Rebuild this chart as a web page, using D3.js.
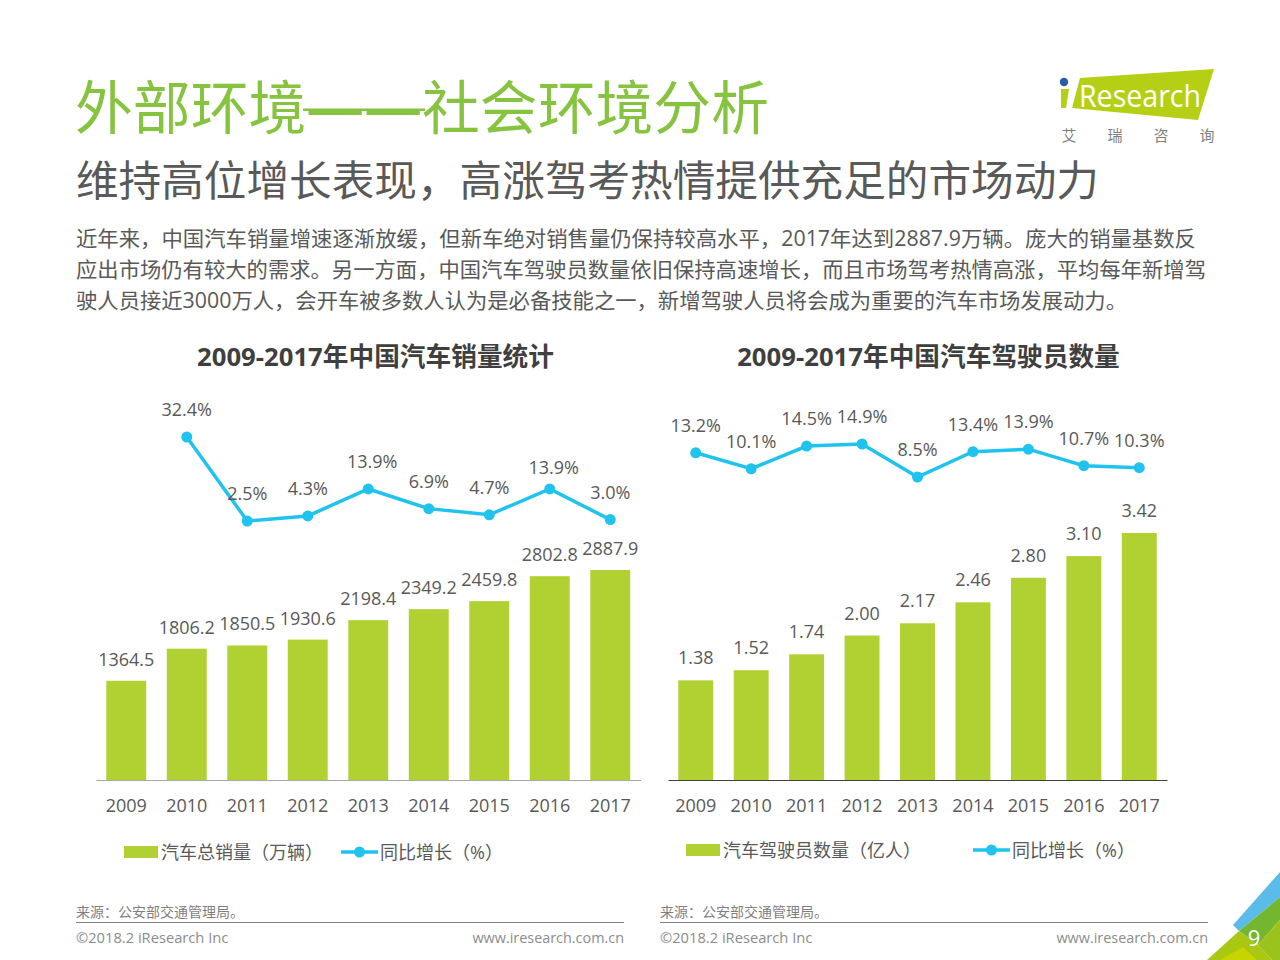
<!DOCTYPE html>
<html>
<head>
<meta charset="utf-8">
<script src="https://cdn.jsdelivr.net/npm/d3@7"></script>
<style>
body { margin: 0; background: #fff; }
svg { display: block; }
text { font-family: "Open Sans", "Noto Sans CJK SC", sans-serif; }
</style>
</head>
<body>
<svg id="chart" width="1280" height="960"></svg>
<script>
// chart data
var years = ["2009","2010","2011","2012","2013","2014","2015","2016","2017"];
var salesValues = [1364.5,1806.2,1850.5,1930.6,2198.4,2349.2,2459.8,2802.8,2887.9];
var salesGrowth = [32.4,2.5,4.3,13.9,6.9,4.7,13.9,3.0];
var driverValues = [1.38,1.52,1.74,2.00,2.17,2.46,2.80,3.10,3.42];
var driverGrowth = [13.2,10.1,14.5,14.9,8.5,13.4,13.9,10.7,10.3];

var paragraph = [
  "近年来，中国汽车销量增速逐渐放缓，但新车绝对销售量仍保持较高水平，2017年达到2887.9万辆。庞大的销量基数反",
  "应出市场仍有较大的需求。另一方面，中国汽车驾驶员数量依旧保持高速增长，而且市场驾考热情高涨，平均每年新增驾",
  "驶人员接近3000万人，会开车被多数人认为是必备技能之一，新增驾驶人员将会成为重要的汽车市场发展动力。"
];

var green = "#b1d132", blue = "#1fc3ee", textGrey = "#595959";
var svg = d3.select("#chart");

function addText(x, y, str, size, fill, anchor, weight, fitWidth) {
    var t = svg.append("text")
    .attr("x", x).attr("y", y)
    .attr("font-size", size)
    .attr("fill", fill)
    .attr("text-anchor", anchor || "start")
    .attr("font-weight", weight || 400)
    .text(str);
    if (fitWidth) t.attr("textLength", fitWidth).attr("lengthAdjust", "spacingAndGlyphs");
    return t;
}

// headers
addText(75, 129, "外部环境——社会环境分析", 57.6, "#86c440", "start", 400, 694);
// close the gap between the two dashes
svg.append("rect").attr("x", 303).attr("y", 108.5).attr("width", 122).attr("height", 2.5).attr("fill", "#86c440");
addText(76, 196, "维持高位增长表现，高涨驾考热情提供充足的市场动力", 42.6, "#595959", "start", 400, 1023);
paragraph.forEach(function(line, i) {
    addText(76, 246 + i * 31, line, 21, textGrey, "start", 400, [1120, 1130, 1051][i]);
});

// one bar + line panel
function drawPanel(opts) {
    var x = d3.scaleBand().domain(opts.categories).range(opts.xRange).paddingInner(opts.padding).paddingOuter(opts.padding / 2);
    var y = d3.scaleLinear().domain([0, d3.max(opts.values)]).range([780, opts.barTop]);
    var yLine = d3.scaleLinear().domain(opts.lineDomain).range(opts.lineRange);

    addText(opts.titleX, 366, opts.title, 25.7, "#3f3f3f", "middle", 700);

    var g = svg.append("g");
    g.selectAll("rect").data(opts.values).enter().append("rect")
    .attr("x", function(d, i) { return x(opts.categories[i]); })
    .attr("y", function(d) { return y(d); })
    .attr("width", x.bandwidth())
    .attr("height", function(d) { return y(0) - y(d); })
    .attr("fill", green);

    g.selectAll("text").data(opts.values).enter().append("text")
    .attr("x", function(d, i) { return x(opts.categories[i]) + x.bandwidth() / 2; })
    .attr("y", function(d) { return y(d) - opts.barLabelGap; })
    .attr("text-anchor", "middle")
    .attr("font-size", 18)
    .attr("fill", textGrey)
    .text(function(d) { return opts.format(d); });

    var axis = svg.append("g")
    .attr("transform", "translate(0,780)")
    .call(d3.axisBottom(x).tickSize(0).tickPadding(19));
    axis.select(".domain").attr("stroke", opts.axisColor).attr("stroke-width", 1.2);
    axis.selectAll("text").attr("font-size", 18).attr("fill", textGrey)
    .style("font-family", '"Open Sans", sans-serif');

    // line only covers the years that have a growth value
    var lineCats = opts.categories.slice(opts.categories.length - opts.growth.length);
    var cx = function(i) { return x(lineCats[i]) + x.bandwidth() / 2; };
    var line = d3.line().x(function(d, i) { return cx(i); }).y(function(d) { return yLine(d); });
    svg.append("path").datum(opts.growth)
    .attr("d", line).attr("fill", "none").attr("stroke", blue).attr("stroke-width", 3.5);

    var pts = svg.append("g");
    pts.selectAll("circle").data(opts.growth).enter().append("circle")
    .attr("cx", function(d, i) { return cx(i); })
    .attr("cy", function(d) { return yLine(d); })
    .attr("r", 5.5).attr("fill", blue);
    pts.selectAll("text").data(opts.growth).enter().append("text")
    .attr("x", function(d, i) { return cx(i) + opts.labelDx(i); })
    .attr("y", function(d, i) { return yLine(d) - opts.labelGap(i); })
    .attr("text-anchor", "middle")
    .attr("font-size", 18)
    .attr("fill", textGrey)
    .text(function(d) { return d.toFixed(1) + "%"; });

    // legend
    var lg = opts.legend;
    svg.append("rect").attr("x", lg.barX).attr("y", lg.y - 6).attr("width", 34).attr("height", 12).attr("fill", green);
    addText(lg.barX + 37, lg.y + 7, lg.barLabel, 18, textGrey);
    svg.append("line").attr("x1", lg.lineX).attr("x2", lg.lineX + 37).attr("y1", lg.y).attr("y2", lg.y).attr("stroke", blue).attr("stroke-width", 3.5);
    svg.append("circle").attr("cx", lg.lineX + 18.5).attr("cy", lg.y).attr("r", 5.5).attr("fill", blue);
    addText(lg.lineX + 39, lg.y + 7, "同比增长（%）", 18, textGrey);
}

drawPanel({
    title: "2009-2017年中国汽车销量统计", titleX: 375.5,
    categories: years, values: salesValues, growth: salesGrowth,
    xRange: [96, 640.5], padding: 0.34, barTop: 570, barLabelGap: 15,
    lineDomain: [2.5, 32.4], lineRange: [521, 437],
    format: function(d) { return d.toFixed(1); },
    // 2013 and 2016 labels sit a bit right of their points, 2016 also lower
    labelDx: function(i) { return (i === 3 || i === 6) ? 4 : 0; },
    labelGap: function(i) { return i === 6 ? 15 : 21; },
    axisColor: "#a6a6a6",
    legend: { barX: 124, lineX: 341, y: 852, barLabel: "汽车总销量（万辆）" }
});

drawPanel({
    title: "2009-2017年中国汽车驾驶员数量", titleX: 928.5,
    categories: years, values: driverValues, growth: driverGrowth,
    xRange: [668, 1167], padding: 0.37, barTop: 533, barLabelGap: 16,
    lineDomain: [8.5, 14.9], lineRange: [477, 444],
    format: function(d) { return d.toFixed(2); },
    labelDx: function() { return 0; },
    labelGap: function() { return 21; },
    axisColor: "#404040",
    legend: { barX: 686, lineX: 973, y: 850, barLabel: "汽车驾驶员数量（亿人）" }
});

// footers
[[76, 624], [660, 1208]].forEach(function(f) {
    addText(f[0], 917, "来源：公安部交通管理局。", 14, "#7f7f7f");
    svg.append("line").attr("x1", f[0]).attr("x2", f[1]).attr("y1", 922.5).attr("y2", 922.5).attr("stroke", "#808080").attr("stroke-width", 1);
    addText(f[0], 943, "©2018.2 iResearch Inc", 14.7, "#8c8c8c");
    addText(f[1], 943, "www.iresearch.com.cn", 14.4, "#8c8c8c", "end");
});

// logo
svg.append("polygon").attr("points", "1080,78 1214,69 1198,120 1072,108").attr("fill", "#b5cf14");
svg.append("polygon").attr("points", "1061,89 1069,89 1066,108 1061,108").attr("fill", "#b5cf14");
svg.append("circle").attr("cx", 1064).attr("cy", 82).attr("r", 4.2).attr("fill", "#2a5caa");
addText(1079, 107, "Research", 31, "#fff", "start", 400, 122);
["艾","瑞","咨","询"].forEach(function(c, i) {
    addText(1069 + i * 46, 141, c, 15, "#7f7f7f", "middle");
});

// corner decoration
svg.append("polygon").attr("points", "1233,925 1280,872 1280,897 1239,931").attr("fill", "#5bbcea");
svg.append("polygon").attr("points", "1239,931 1280,897 1280,920 1258,945").attr("fill", "#74b72e");
svg.append("polygon").attr("points", "1258,945 1280,920 1280,960 1272,960").attr("fill", "#9cc31c");
svg.append("polygon").attr("points", "1207,960 1239,931 1258,945 1272,960").attr("fill", "#a9c811");
svg.append("polygon").attr("points", "1220,960 1243,947 1257,960").attr("fill", "#c8d400");
addText(1254, 946, "9", 22, "#fff", "middle");
</script>
</body>
</html>
